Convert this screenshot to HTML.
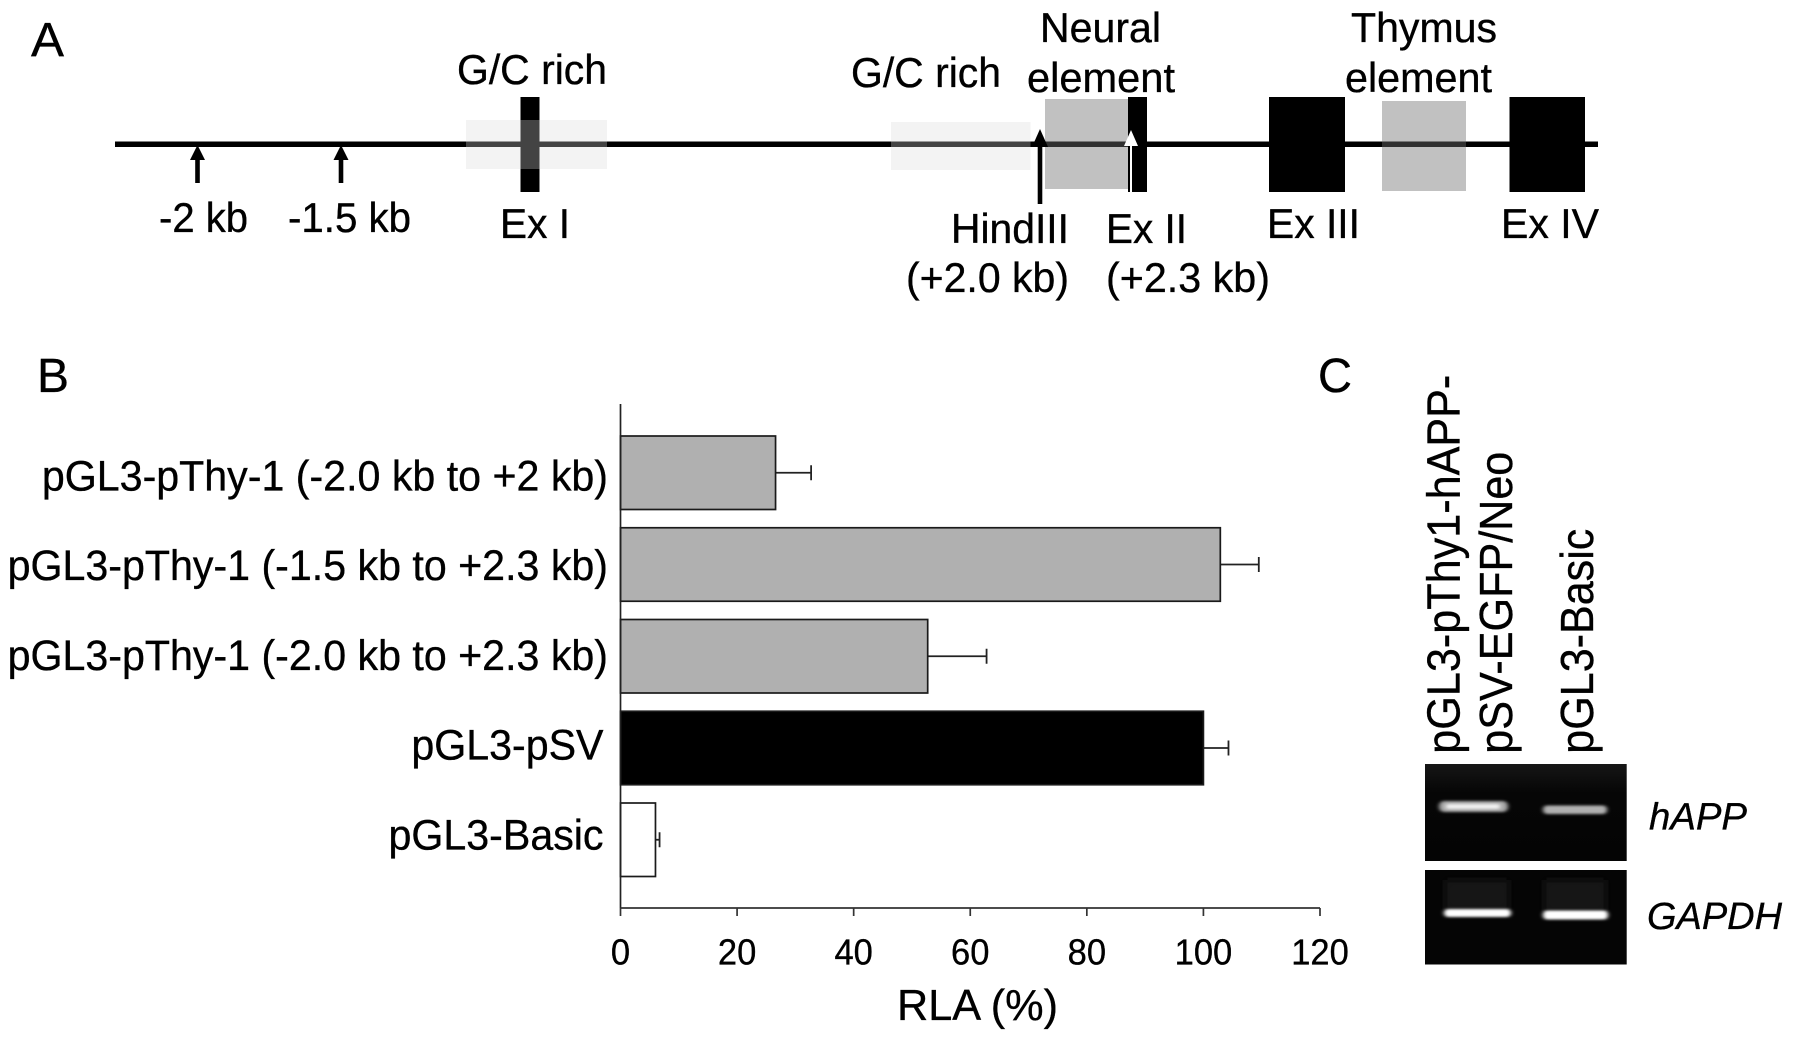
<!DOCTYPE html>
<html lang="en">
<head>
<meta charset="utf-8">
<title>Thy-1 promoter constructs and reporter activity</title>
<style>
html,body{margin:0;padding:0;background:#fff;width:1795px;height:1041px;overflow:hidden}
svg{display:block}
text{font-family:"Liberation Sans",Arial,sans-serif;fill:#000;stroke:#000;stroke-width:.35px}
</style>
</head>
<body>
<svg id="figure" xmlns="http://www.w3.org/2000/svg" width="1795" height="1041" viewBox="0 0 1795 1041">
  <defs>
    <filter id="bandBlur" x="-20%" y="-100%" width="140%" height="300%"><feGaussianBlur stdDeviation="2.2 1.2"/></filter>
    <filter id="smearBlur" x="-20%" y="-20%" width="140%" height="140%"><feGaussianBlur stdDeviation="4"/></filter>
    <linearGradient id="gelTop" x1="0" y1="0" x2="0" y2="1"><stop offset="0" stop-color="#161616"/><stop offset="0.3" stop-color="#060606"/><stop offset="1" stop-color="#040404"/></linearGradient>
  </defs>

  <g id="panel-a">
    <text x="31" y="56" font-size="48" textLength="33" lengthAdjust="spacingAndGlyphs">A</text>
    <rect x="115" y="141.5" width="1483" height="5.5" fill="#000"/>
    <rect x="520.5" y="97" width="19" height="95" fill="#000"/>
    <rect x="1128" y="97" width="19" height="95" fill="#000"/>
    <rect x="1269" y="97" width="76" height="95" fill="#000"/>
    <rect x="1509.5" y="97" width="75.5" height="95" fill="#000"/>
    <rect x="466" y="120" width="141" height="49" fill="#d9d9d9" fill-opacity="0.31"/>
    <rect x="891" y="122" width="139.5" height="48" fill="#d9d9d9" fill-opacity="0.31"/>
    <rect x="1045" y="99" width="83" height="90" fill="#707070" fill-opacity="0.43"/>
    <rect x="1382" y="101" width="84" height="90" fill="#707070" fill-opacity="0.43"/>

    <g><rect x="195.2" y="155" width="4.6" height="28" fill="#000"/><polygon points="197.5,145 205,160 190,160" fill="#000"/></g>
    <g><rect x="338.7" y="155" width="4.6" height="28" fill="#000"/><polygon points="341,145 348.5,160 333.5,160" fill="#000"/></g>
    <g><rect x="1037.7" y="142" width="4.6" height="62" fill="#000"/><polygon points="1040,129 1048,147 1032,147" fill="#000"/></g>
    <g><rect x="1130" y="142" width="2" height="50" fill="#fff"/><polygon points="1131,130 1138,146 1124,146" fill="#fff"/></g>

    <text x="457" y="84" font-size="42" textLength="150" lengthAdjust="spacingAndGlyphs">G/C rich</text>
    <text x="851" y="87" font-size="42" textLength="150" lengthAdjust="spacingAndGlyphs">G/C rich</text>
    <text x="1040" y="42" font-size="42" textLength="121" lengthAdjust="spacingAndGlyphs">Neural</text>
    <text x="1027" y="92" font-size="42" textLength="148" lengthAdjust="spacingAndGlyphs">element</text>
    <text x="1351" y="42" font-size="42" textLength="146" lengthAdjust="spacingAndGlyphs">Thymus</text>
    <text x="1345" y="92" font-size="42" textLength="147" lengthAdjust="spacingAndGlyphs">element</text>
    <text x="159" y="232" font-size="42" textLength="89" lengthAdjust="spacingAndGlyphs">-2 kb</text>
    <text x="288" y="232" font-size="42" textLength="123" lengthAdjust="spacingAndGlyphs">-1.5 kb</text>
    <text x="500" y="238" font-size="42" textLength="70" lengthAdjust="spacingAndGlyphs">Ex I</text>
    <text x="951" y="243" font-size="42" textLength="118" lengthAdjust="spacingAndGlyphs">HindIII</text>
    <text x="906" y="292" font-size="42" textLength="163" lengthAdjust="spacingAndGlyphs">(+2.0 kb)</text>
    <text x="1106" y="243" font-size="42" textLength="81" lengthAdjust="spacingAndGlyphs">Ex II</text>
    <text x="1106" y="292" font-size="42" textLength="164" lengthAdjust="spacingAndGlyphs">(+2.3 kb)</text>
    <text x="1267" y="238" font-size="42" textLength="93" lengthAdjust="spacingAndGlyphs">Ex III</text>
    <text x="1501" y="238" font-size="42" textLength="98" lengthAdjust="spacingAndGlyphs">Ex IV</text>
  </g>

  <g id="panel-b">
    <text x="37" y="392" font-size="48">B</text>
    <g id="chart-bars"></g>
    <g id="chart-axes"></g>
    <text x="897" y="1020" font-size="44" textLength="161" lengthAdjust="spacingAndGlyphs">RLA (%)</text>
  </g>

  <g id="panel-c">
    <text x="1318" y="392" font-size="48" textLength="34" lengthAdjust="spacingAndGlyphs">C</text>
    <text transform="translate(1459.5,753.7) rotate(-90)" font-size="46" textLength="379" lengthAdjust="spacingAndGlyphs">pGL3-pThy1-hAPP-</text>
    <text transform="translate(1512,753.7) rotate(-90)" font-size="46" textLength="302" lengthAdjust="spacingAndGlyphs">pSV-EGFP/Neo</text>
    <text transform="translate(1593,753.7) rotate(-90)" font-size="46" textLength="225" lengthAdjust="spacingAndGlyphs">pGL3-Basic</text>

    <g>
      <rect x="1425" y="764" width="201.7" height="97" fill="url(#gelTop)"/>
      <rect x="1439" y="801" width="69" height="11" rx="5" fill="#a8a8a8" filter="url(#bandBlur)"/>
      <rect x="1446" y="804" width="54" height="5" rx="2" fill="#f0f0f0" filter="url(#bandBlur)"/>
      <rect x="1543" y="805.5" width="64" height="8.5" rx="4" fill="#b0b0b0" filter="url(#bandBlur)"/>
    </g>
    <g>
      <rect x="1425" y="870" width="201.7" height="94.5" fill="#050505"/>
      <rect x="1445" y="880" width="64" height="30" fill="#131313" filter="url(#smearBlur)"/>
      <rect x="1544" y="880" width="62" height="32" fill="#131313" filter="url(#smearBlur)"/>
      <rect x="1444" y="909" width="67" height="8" rx="4" fill="#fff" filter="url(#bandBlur)"/>
      <rect x="1543" y="910.5" width="65" height="9" rx="4" fill="#fff" filter="url(#bandBlur)"/>
    </g>
    <text x="1649" y="829.5" font-size="38" font-style="italic" textLength="98" lengthAdjust="spacingAndGlyphs">hAPP</text>
    <text x="1647" y="929" font-size="38" font-style="italic" textLength="135" lengthAdjust="spacingAndGlyphs">GAPDH</text>
  </g>
</svg>

<script>
const categories = [
  'pGL3-pThy-1 (-2.0 kb to +2 kb)',
  'pGL3-pThy-1 (-1.5 kb to +2.3 kb)',
  'pGL3-pThy-1 (-2.0 kb to +2.3 kb)',
  'pGL3-pSV',
  'pGL3-Basic'
];
const rlaValues = [26.6, 102.9, 52.7, 100, 6];
const rlaErrors = [6.1, 6.6, 10.1, 4.3, 0.7];
const constructTypes = ['thy1', 'thy1', 'thy1', 'sv40', 'basic'];
const tickValues = [0, 20, 40, 60, 80, 100, 120];
const tickLabels = ['0', '20', '40', '60', '80', '100', '120'];

const SVG_NS = 'http://www.w3.org/2000/svg';
const axisLeft = 620.5, axisEnd = 1320, axisMax = 120;
const axisTop = 404, axisBottom = 908;
const firstBarTop = 436, bandStep = 91.75, barHeight = 73.5;
const firstLabelBaseline = 490.5, labelStep = 89.7;

function xScale(value) {
  return axisLeft + (value / axisMax) * (axisEnd - axisLeft);
}
function yBandTop(index) {
  return firstBarTop + index * bandStep;
}
function fillFor(type) {
  return type === 'thy1' ? '#b0b0b0' : type === 'sv40' ? '#000' : '#fff';
}
function make(tag, attrs, parent) {
  const el = document.createElementNS(SVG_NS, tag);
  for (const k in attrs) el.setAttribute(k, attrs[k]);
  parent.appendChild(el);
  return el;
}

const barsGroup = document.getElementById('chart-bars');
const axesGroup = document.getElementById('chart-axes');

categories.forEach(function (label, i) {
  const top = yBandTop(i);
  const mid = top + barHeight / 2;
  const barEnd = xScale(rlaValues[i]);
  const errEnd = xScale(rlaValues[i] + rlaErrors[i]);

  const whisker = make('line', { x1: barEnd, x2: errEnd, y1: mid, y2: mid, stroke: '#222', 'stroke-width': 1.8 }, barsGroup);
  
  

  const cap = make('line', { x1: errEnd, x2: errEnd, y1: mid - 7.5, y2: mid + 7.5, stroke: '#222', 'stroke-width': 1.8 }, barsGroup);
  
  

  const bar = make('rect', { x: axisLeft, y: top, width: barEnd - axisLeft, height: barHeight, fill: fillFor(constructTypes[i]), stroke: '#1a1a1a', 'stroke-width': 1.7 }, barsGroup);
  
  

  const text = make('text', { x: label.endsWith(')') ? 608 : 603.5, y: firstLabelBaseline + i * labelStep, 'font-size': 42.5, 'text-anchor': 'end' }, axesGroup);
  text.textContent = label;
  text.setAttribute('textLength', text.getComputedTextLength() * 41.15 / 42.5);
  text.setAttribute('lengthAdjust', 'spacingAndGlyphs');
  
  
});

const yAxis = make('line', { x1: axisLeft, x2: axisLeft, y1: axisTop, y2: axisBottom, stroke: '#222', 'stroke-width': 1.7 }, axesGroup);



const xAxis = make('line', { x1: axisLeft, x2: axisEnd, y1: axisBottom, y2: axisBottom, stroke: '#333', 'stroke-width': 1.8 }, axesGroup);



tickValues.forEach(function (value, i) {
  const x = xScale(value);
  const tick = make('line', { x1: x, x2: x, y1: axisBottom, y2: axisBottom + 8, stroke: '#333', 'stroke-width': 1.7 }, axesGroup);
  
  

  const tickText = make('text', { x: x, y: 964.5, 'font-size': 36, 'text-anchor': 'middle' }, axesGroup);
  tickText.textContent = tickLabels[i];
  tickText.setAttribute('textLength', tickText.getComputedTextLength() * 34.5 / 36);
  tickText.setAttribute('lengthAdjust', 'spacingAndGlyphs');
  
  
});
</script>
</body>
</html>
